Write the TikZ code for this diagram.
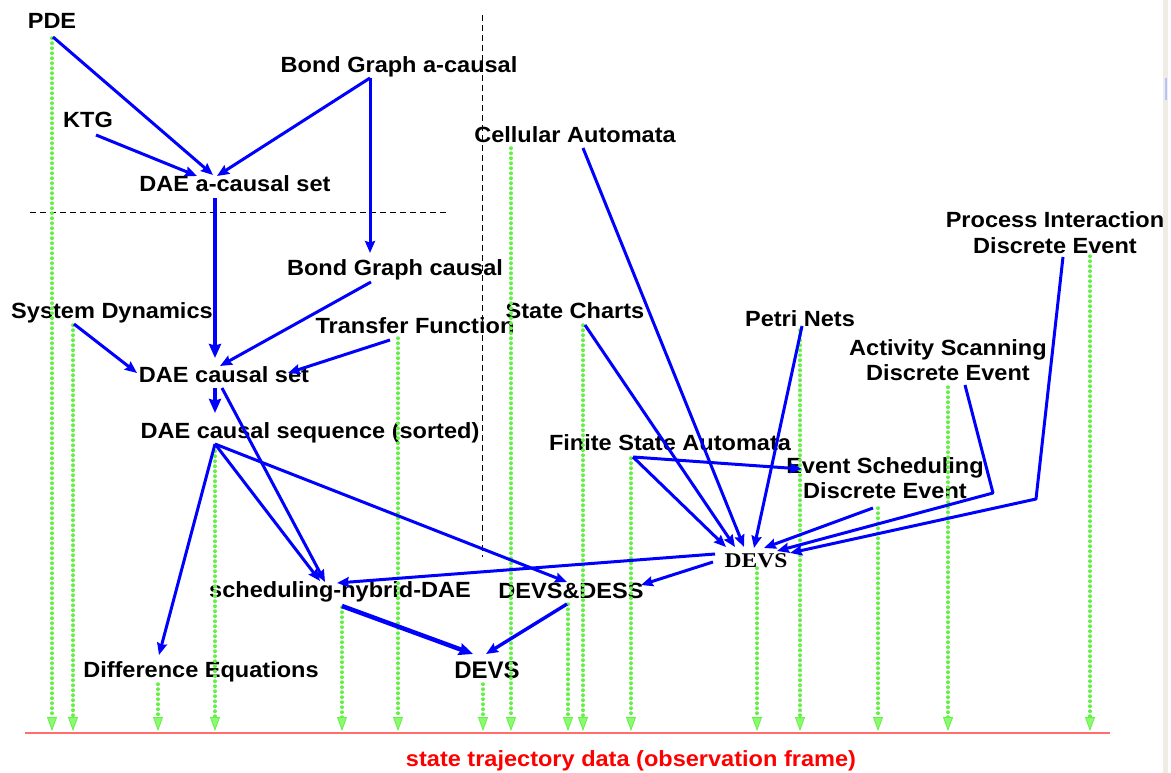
\documentclass[tikz,border=0pt]{standalone}
\usepackage{fontspec}
\setmainfont{Liberation Sans}[FakeStretch=1.07]
\newfontfamily\plainsans{Liberation Sans}
\newfontfamily\serifwide{Liberation Serif}[FakeStretch=1.12]
\usetikzlibrary{arrows.meta,calc}

\definecolor{flowblue}{RGB}{0,0,255}
\definecolor{obsgreen}{RGB}{100,240,70}
\definecolor{obsfill}{RGB}{140,250,110}
\definecolor{framered}{RGB}{255,110,110}
\definecolor{edgegray}{RGB}{238,236,228}
\definecolor{edgeblue}{RGB}{180,195,255}

\begin{document}
\begin{tikzpicture}[x=1pt,y=-1pt,
  lbl/.style={font=\bfseries\fontsize{22}{26}\selectfont, inner sep=0pt, anchor=base, align=center},
  flow/.style={draw=flowblue, line width=3pt, line join=round,
    -{Stealth[length=12pt,width=10pt,inset=1.5pt]}},
  heavy/.style={flow, line width=4.5pt, -{Stealth[length=14pt,width=12pt,inset=1.5pt]}},
  obs/.style={draw=obsgreen, line width=3.4pt, line cap=round,
    dash pattern=on 0.4pt off 4.6pt,
    -{Triangle[length=14pt,width=10pt,fill=obsfill,line width=0.8pt]}},
  sep/.style={draw=black, line width=0.9pt, dash pattern=on 6pt off 4pt}
]
\useasboundingbox (0,0) rectangle (1171,773);
\fill[white] (0,0) rectangle (1171,773);
\fill[edgegray] (1163,0) rectangle (1168,773);
\draw[edgeblue, line width=1.5pt] (1166,78) -- (1166,100);

% separators
\draw[sep] (30,212) -- (447,212);
\draw[sep] (482,15) -- (482,557);

% observation frame
\draw[framered, line width=2pt] (25,733) -- (1110,733);
\coordinate (obsline) at (0,731);
\node[lbl, text=red] (frame) at (631,766) {state trajectory data (observation frame)};

% formalisms (two-line labels are placed by the baseline of their last line)
\node[lbl] (pde)    at (52,29)   {PDE};
\node[lbl] (ktg)    at (88,128)  {KTG};
\node[lbl] (bga)    at (399,73)  {Bond Graph a-causal};
\node[lbl] (daea)   at (235,192) {DAE a-causal set};
\node[lbl] (bgc)    at (395,276) {Bond Graph causal};
\node[lbl] (sysdyn) at (112,318) {System Dynamics};
\node[lbl] (tf)     at (415,333) {Transfer Function};
\node[lbl] (daec)   at (224,382) {DAE causal set};
\node[lbl] (daeseq) at (310,438) {DAE causal sequence (sorted)};
\node[lbl] (cell)   at (575,143) {Cellular Automata};
\node[lbl] (sc)     at (575,318) {State Charts};
\node[lbl] (petri)  at (800,326) {Petri Nets};
\node[lbl] (pi)     at (1055,253) {Process Interaction\\Discrete Event};
\node[lbl, font=\bfseries\fontsize{22}{25}\selectfont] (as) at (948,380) {Activity Scanning\\Discrete Event};
\node[lbl] (fsa)    at (670,450) {Finite State Automata};
\node[lbl, font=\bfseries\fontsize{22}{25}\selectfont] (es) at (885,498) {Event Scheduling\\Discrete Event};
\node[lbl, font=\serifwide\bfseries\fontsize{21}{24}\selectfont] (devs) at (756,567) {DEVS};
\node[lbl] (dd)     at (571,598) {DEVS\&DESS};
\node[lbl] (shd)    at (340,597) {scheduling-hybrid-DAE};
\node[lbl] (diff)   at (201,677) {Difference Equations};
\node[lbl, font=\plainsans\bfseries\fontsize{24}{28}\selectfont] (devsb) at (487,678) {DEVS};

% observation arrows down to the frame
\foreach \n/\dx/\dy in {pde/0/9, sysdyn/-39/7, diff/-43/7, daeseq/-95/8, shd/2/10,
    tf/-17/5, devsb/-4/6, cell/-64/5, dd/-3/6, sc/8/7, fsa/-39/8, devs/1/1,
    petri/0/4, es/-7/10, as/0/7, pi/35/3}
  \draw[obs] ($(\n.base)+(\dx,\dy)$) coordinate (top-\n) -- (top-\n |- obsline);

% continuous side
\draw[flow] ($(pde.base)+(1,8)$) -- ($(daea.base)+(-22,-17)$);
\draw[flow] ($(ktg.base)+(8,7)$) -- ($(daea.base)+(-38,-16)$);
\draw[flow] ($(bga.base)+(-29,5)$) -- ($(daea.base)+(-18,-16)$);
\draw[flow] ($(bga.base)+(-29,5)$) -- ($(bgc.base)+(-25,-23)$);
\draw[heavy, line width=3.6pt] ($(daea.base)+(-20,6)$) -- ($(daec.base)+(-9,-24)$);
\draw[flow] ($(bgc.base)+(-24,6)$) -- ($(daec.base)+(-4,-16)$);
\draw[flow] ($(sysdyn.base)+(-38,6)$) -- ($(daec.base)+(-87,-9)$);
\draw[flow] ($(tf.base)+(-25,7)$) -- ($(daec.base)+(64,-9)$);
\draw[heavy] ($(daec.base)+(-9,6)$) -- ($(daeseq.base)+(-95,-25)$);
\draw[flow] ($(daec.base)+(-2,6)$) -- ($(shd.base)+(-15,-15)$);
\draw[flow] ($(daeseq.base)+(-95,6)$) -- ($(diff.base)+(-42,-22)$);
\draw[flow] ($(daeseq.base)+(-95,6)$) -- ($(shd.base)+(-20,-16)$);
\draw[flow] ($(daeseq.base)+(-95,6)$) -- ($(dd.base)+(-4,-16)$);
\draw[heavy] ($(shd.base)+(2,9)$) -- ($(devsb.base)+(-14,-24)$);
\draw[flow, line width=3.4pt] ($(dd.base)+(-4,6)$) -- ($(devsb.base)+(-1,-24)$);

% discrete side
\draw[flow] ($(devs.base)+(-41,-13)$) -- ($(shd.base)+(-3,-14)$);
\draw[flow] ($(devs.base)+(-43,-5)$) -- ($(dd.base)+(70,-13)$);
\draw[flow] ($(cell.base)+(8,5)$) -- ($(devs.base)+(-12,-20)$);
\draw[flow] ($(sc.base)+(10,7)$) -- ($(devs.base)+(-21,-20)$);
\draw[flow] ($(fsa.base)+(-37,7)$) -- ($(devs.base)+(-30,-20)$);
\draw[flow] ($(fsa.base)+(-37,7)$) -- ($(es.base)+(-83,-29)$);
\draw[flow] ($(petri.base)+(2,0)$) -- ($(devs.base)+(-2,-19)$);
\draw[flow] ($(es.base)+(-12,10)$) -- ($(devs.base)+(8,-19)$);
\draw[flow] ($(as.base)+(17,5)$) -- ($(as.base)+(45,113)$) -- ($(devs.base)+(21,-16)$);
\draw[flow] ($(pi.base)+(8,4)$) -- ($(pi.base)+(-19,246)$) -- ($(devs.base)+(34,-14)$);
\end{tikzpicture}
\end{document}
